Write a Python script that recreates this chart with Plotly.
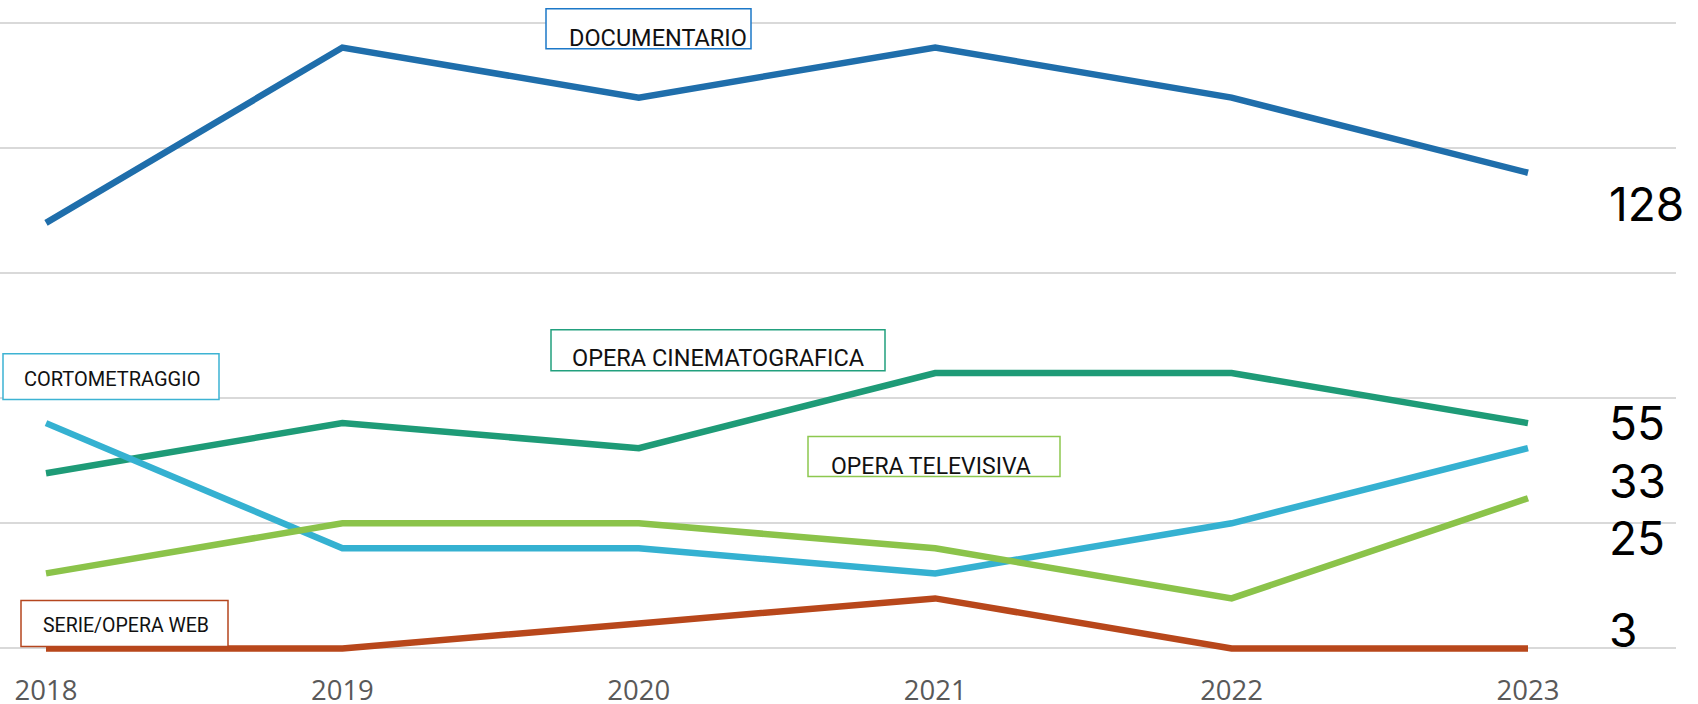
import plotly.graph_objects as go

# ---- data ----
years = [2018, 2019, 2020, 2021, 2022, 2023]
year_labels = ["2018", "2019", "2020", "2021", "2022", "2023"]
series_names = ["DOCUMENTARIO", "OPERA CINEMATOGRAFICA", "CORTOMETRAGGIO",
                "OPERA TELEVISIVA", "SERIE/OPERA WEB"]
documentario = [17, 24, 22, 24, 22, 19]
opera_cinematografica = [7, 9, 8, 11, 11, 9]
cortometraggio = [9, 4, 4, 3, 5, 8]
opera_televisiva = [3, 5, 5, 4, 2, 6]
serie_web = [0, 0, 1, 2, 0, 0]
series_values = [documentario, opera_cinematografica, cortometraggio,
                 opera_televisiva, serie_web]

# ---- styles / positions ----
line_colors = ["#1F6EAB", "#1E9B77", "#35B1D1", "#8BC34A", "#B8471B"]
box_colors = ["#1C78C8", "#22A07E", "#3DB3D3", "#8DC84F", "#B5461E"]
W, H = 1698, 704
L, R, T, B = 0, 22, 10.2, 42.5
PW, PH = W - L - R, H - T - B
YR = (-0.5, 25.5)
STEP = 296.4  # pixels per year
X0 = 46  # pixel of first year


def px(x):  # page pixel -> paper x
    return (x - L) / PW


def py(y):  # page pixel -> paper y
    return (H - B - y) / PH


# label boxes in page pixels: (x0, y0, x1, y1, text_left, text_mid_y, font_size)
boxes = [
    (546, 9, 751, 49, 567, 38, 23.5),
    (551, 330, 885, 371, 570, 358.5, 23.5),
    (3, 354, 219, 400, 22, 379, 20),
    (808, 437, 1060, 477, 829, 467, 23),
    (21, 601, 228, 647, 41, 626, 19.5),
]
# totals label positions (page pixels)
total_label_y = [204.5, 423, 481, 538, 630]
total_label_x = 1607

fig = go.Figure()
for name, vals, col in zip(series_names, series_values, line_colors):
    fig.add_trace(go.Scatter(x=years, y=vals, mode="lines", name=name,
                             line=dict(color=col, width=6.5), cliponaxis=False))

shapes = []
annotations = []
for name, col, bx in zip(series_names, box_colors, boxes):
    x0, y0, x1, y1, tl, ty, fs = bx
    shapes.append(dict(type="rect", xref="paper", yref="paper",
                       x0=px(x0), x1=px(x1), y0=py(y1), y1=py(y0),
                       line=dict(color=col, width=1.5), fillcolor="white",
                       layer="above"))
    annotations.append(dict(xref="paper", yref="paper", x=px(tl), y=py(ty),
                            xanchor="left", yanchor="middle", text=name,
                            showarrow=False,
                            font=dict(family="Roboto", size=fs, color="#111111")))

for vals, ylab in zip(series_values, total_label_y):
    annotations.append(dict(xref="paper", yref="paper", x=px(total_label_x), y=py(ylab),
                            xanchor="left", yanchor="middle", text=str(sum(vals)),
                            showarrow=False,
                            font=dict(family="Inter", size=46, color="#000000")))

fig.update_layout(
    width=W, height=H,
    margin=dict(l=L, r=R, t=T, b=B, pad=0, autoexpand=False),
    paper_bgcolor="white", plot_bgcolor="white",
    showlegend=False,
    shapes=shapes, annotations=annotations,
    xaxis=dict(range=[years[0] - X0 / STEP, years[0] + (PW - X0) / STEP],
               tickvals=years, ticktext=year_labels, automargin=False,
               showgrid=False, zeroline=False, showline=False, ticks="",
               ticklabelstandoff=10,
               tickfont=dict(family="Open Sans", size=27.5, color="#595959")),
    yaxis=dict(range=list(YR), tick0=0, dtick=5, showticklabels=False,
               automargin=False,
               showgrid=True, gridcolor="#D9D9D9", gridwidth=2,
               zeroline=False, showline=False, ticks=""),
)

fig.write_html("out.html", config={"displayModeBar": False},
               post_script="document.body.style.margin='0';"
                           "document.body.style.overflow='hidden';")
